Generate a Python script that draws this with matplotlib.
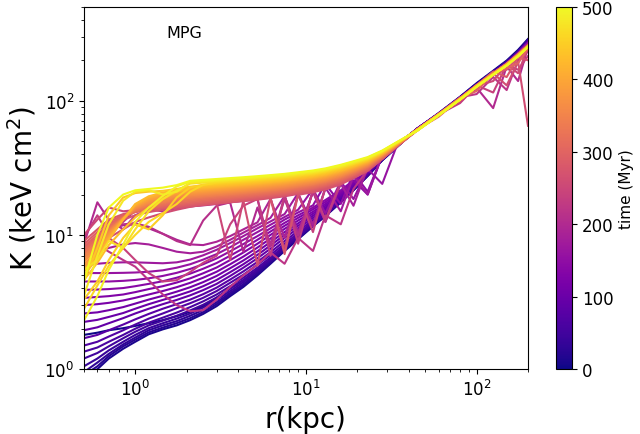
import matplotlib
matplotlib.use('Agg')
import matplotlib.pyplot as plt
from matplotlib import cm
from matplotlib.colors import Normalize

# raios (kpc): parte interna e externa do perfil
r_interno = [0.5, 0.6, 0.7, 0.85, 1.0, 1.2, 1.45, 1.75, 2.1, 2.5, 3.0, 3.6,
             4.3, 5.2, 6.2, 7.5, 9.0, 11, 13, 16, 19, 23, 28, 34]
r_externo = [45, 60, 80, 100, 125, 150, 175, 200]

# tempo de cada perfil (Myr)
tempos = [0, 10, 20, 30, 40, 50, 60, 70, 80, 90, 100, 110, 120, 130, 140, 150,
          160, 170, 180, 190, 200, 210, 220, 230, 240, 250, 260, 270, 280, 290,
          300, 310, 320, 330, 340, 350, 360, 370, 380, 390, 400, 410, 420, 430,
          440, 450, 460, 470, 480, 490, 500]

# entropia K (keV cm^2), r <= 34 kpc
K_interno = [
    [1.8, 1.87, 1.95, 2.02, 2.1, 2.2, 2.32, 2.48, 2.68, 2.95, 3.4, 4.0, 4.6, 5.5, 6.5, 8.0, 9.8, 12.3, 14.6, 18, 22.5, 28.5, 37, 46],
    [0.85, 1.0, 1.2, 1.42, 1.6, 1.82, 1.98, 2.12, 2.32, 2.58, 2.95, 3.5, 4.1, 5.0, 6.1, 7.6, 9.3, 11.6, 13.8, 17.5, 21.5, 27.5, 36, 45],
    [0.9, 1.05, 1.25, 1.48, 1.66, 1.88, 2.04, 2.2, 2.4, 2.66, 3.05, 3.6, 4.2, 5.1, 6.2, 7.7, 9.4, 11.7, 13.9, 17.6, 21.6, 27.6, 36, 45],
    [0.95, 1.12, 1.3, 1.53, 1.72, 1.95, 2.12, 2.28, 2.5, 2.76, 3.15, 3.7, 4.3, 5.2, 6.3, 7.8, 9.5, 11.8, 14, 17.7, 21.7, 27.7, 36, 45],
    [1.05, 1.2, 1.38, 1.6, 1.8, 2.02, 2.2, 2.38, 2.6, 2.88, 3.28, 3.82, 4.45, 5.35, 6.45, 7.95, 9.65, 11.9, 14.1, 17.8, 21.8, 27.8, 36.5, 45.5],
    [1.2, 1.32, 1.48, 1.7, 1.9, 2.12, 2.3, 2.5, 2.74, 3.02, 3.42, 3.98, 4.6, 5.5, 6.6, 8.1, 9.8, 12, 14.2, 18, 22, 28, 36.5, 45.5],
    [1.35, 1.45, 1.6, 1.8, 2.0, 2.22, 2.42, 2.64, 2.9, 3.2, 3.6, 4.15, 4.8, 5.7, 6.8, 8.3, 10, 12.2, 14.4, 18.2, 22.2, 28.2, 37, 46],
    [1.5, 1.6, 1.75, 1.95, 2.15, 2.38, 2.6, 2.85, 3.1, 3.4, 3.82, 4.4, 5.05, 6.0, 7.1, 8.6, 10.3, 12.5, 14.7, 18.5, 22.5, 28.5, 37, 46],
    [1.7, 1.8, 1.95, 2.15, 2.35, 2.58, 2.82, 3.05, 3.3, 3.62, 4.05, 4.65, 5.35, 6.3, 7.45, 9.0, 10.7, 12.9, 15.1, 18.8, 22.8, 28.8, 37.5, 46.5],
    [1.95, 2.05, 2.2, 2.4, 2.6, 2.82, 3.05, 3.28, 3.55, 3.88, 4.32, 4.95, 5.7, 6.7, 7.9, 9.5, 11.2, 13.4, 15.6, 19.2, 23.2, 29, 37.5, 46.5],
    [2.25, 2.33, 2.45, 2.62, 2.82, 3.05, 3.28, 3.52, 3.8, 4.15, 4.62, 5.28, 6.05, 7.1, 8.35, 10, 11.7, 13.9, 16, 19.6, 23.5, 29.3, 38, 46.5],
    [2.6, 2.65, 2.75, 2.9, 3.08, 3.3, 3.52, 3.78, 4.08, 4.45, 4.95, 5.65, 6.45, 7.55, 8.85, 10.5, 12.2, 14.4, 16.5, 20, 24, 29.6, 38, 47],
    [3.0, 3.05, 3.12, 3.25, 3.4, 3.6, 3.82, 4.08, 4.4, 4.8, 5.32, 6.05, 6.9, 8.05, 9.4, 11.1, 12.8, 14.9, 17, 20.5, 24.4, 30, 38.5, 47],
    [3.4, 3.45, 3.5, 3.6, 3.75, 3.95, 4.15, 4.42, 4.75, 5.18, 5.72, 6.5, 7.4, 8.6, 10, 11.7, 13.4, 15.5, 17.6, 21, 25, 30.5, 38.5, 47],
    [3.9, 3.92, 3.95, 4.02, 4.15, 4.32, 4.52, 4.8, 5.15, 5.6, 6.18, 7.0, 7.95, 9.2, 10.6, 12.3, 14, 16, 18.2, 21.5, 25.5, 20, 39, 47],
    [4.5, 4.5, 4.5, 4.55, 4.62, 4.75, 4.95, 5.22, 5.58, 6.05, 6.68, 7.55, 8.55, 9.8, 11.2, 13, 14.7, 16.6, 24, 17, 29, 21, 39, 47],
    [5.2, 5.2, 5.2, 5.22, 5.25, 5.32, 5.45, 5.7, 6.05, 6.55, 7.2, 8.1, 9.2, 10.5, 11.9, 13.6, 15.4, 22, 14.5, 25, 18.5, 31, 24, 46],
    [6.0, 6.1, 6.2, 6.25, 6.25, 6.2, 6.15, 6.25, 6.55, 7.05, 7.75, 8.7, 9.8, 11.2, 12.6, 14.3, 20.5, 11.5, 22.5, 15, 27.5, 20, 39.5, 47.5],
    [7.0, 7.5, 8.0, 8.5, 8.7, 8.5, 8.0, 7.5, 7.3, 7.5, 8.2, 9.2, 10.4, 11.8, 13.4, 19.5, 10.5, 21, 12.5, 24, 16.5, 32, 40, 47.5],
    [8.0, 9.5, 11, 11.8, 12, 11.2, 10.2, 9.2, 8.5, 8.4, 8.9, 9.8, 11, 12.4, 18.5, 9.5, 19.8, 12, 22, 24.6, 28, 33.5, 40.5, 48],
    [8.5, 17.5, 13, 11, 14, 15.5, 15, 15.8, 16.3, 16.6, 17, 17.4, 7.5, 16, 8.5, 18.5, 10, 21, 22.3, 24.3, 26.8, 30.3, 37, 45.5],
    [7.5, 9.5, 11, 12, 12.2, 11.5, 10.2, 9, 8.4, 12.8, 16.5, 17.5, 17.9, 18.4, 8.2, 19.5, 9.8, 21.2, 12.5, 24.4, 26.9, 30.4, 37, 45.5],
    [6.8, 8.5, 7.5, 6.5, 5.8, 4.6, 3.6, 3.0, 2.7, 2.75, 3.3, 4.1, 5.0, 6.0, 7.4, 6.1, 9.5, 7.6, 14, 12, 22, 30.5, 37, 45.5],
    [9.5, 14, 10, 12.5, 15.2, 15.8, 16.1, 16.4, 16.7, 17.1, 17.5, 17.9, 18.3, 18.8, 7.0, 19.8, 8.6, 21.6, 13, 24.5, 27, 30.5, 37, 45.5],
    [5.5, 7, 9.5, 8, 6.5, 5.2, 4.5, 4.6, 5.3, 6.2, 7.0, 12, 16.5, 18.5, 19, 7.8, 20.3, 10.5, 22.6, 24.6, 27, 30.5, 37, 45.5],
    [10, 13, 16, 15, 15.3, 15.6, 15.9, 16.2, 16.5, 16.9, 17.3, 6.5, 18.1, 18.6, 19.1, 19.7, 20.5, 21.4, 22.5, 24.5, 27, 30.5, 37, 45.5],
    [7, 8, 9.5, 11, 12.5, 13.5, 14.5, 15.4, 16.2, 16.8, 17.2, 17.6, 18, 5.9, 18.8, 19.4, 20.2, 21.1, 22.2, 24.2, 26.7, 30.2, 36.8, 45.4],
    [8, 9.5, 11.5, 13, 14, 14.8, 15.4, 15.9, 16.3, 16.7, 17.1, 17.5, 17.9, 18.3, 18.8, 7.2, 19.9, 20.8, 21.8, 23.8, 26.5, 30, 36.8, 45.4],
    [9, 11, 13, 14.3, 15, 15.5, 15.8, 16.2, 16.5, 16.9, 17.3, 17.7, 18.1, 18.6, 19.1, 19.7, 20.5, 21.4, 22.5, 24.5, 27.0, 30.5, 37.0, 45.5],
    [8.5, 10.5, 12.5, 14, 14.8, 15.4, 15.9, 16.5, 16.9, 17.3, 17.7, 18.1, 18.5, 19.0, 19.5, 20.1, 20.9, 21.8, 22.9, 24.9, 27.4, 30.8, 37.3, 45.7],
    [8.2, 10, 12, 13.8, 14.8, 15.6, 16.2, 16.8, 17.3, 17.7, 18.1, 18.5, 18.9, 19.4, 19.9, 20.5, 21.3, 22.2, 23.3, 25.3, 27.8, 31.2, 37.5, 45.8],
    [7.8, 9.6, 11.6, 13.6, 14.9, 15.8, 16.5, 17.2, 17.7, 18.1, 18.5, 18.9, 19.3, 19.8, 20.3, 20.9, 21.7, 22.6, 23.7, 25.7, 28.1, 31.5, 37.8, 46.0],
    [7.5, 9.3, 11.3, 13.5, 15, 16, 16.8, 17.6, 18.1, 18.5, 18.9, 19.3, 19.7, 20.2, 20.7, 21.3, 22.1, 23.0, 24.1, 26.1, 28.5, 31.9, 38.0, 46.1],
    [7.2, 9, 11, 13.4, 15.2, 16.3, 17.2, 18, 18.5, 18.9, 19.3, 19.7, 20.1, 20.6, 21.1, 21.7, 22.5, 23.4, 24.5, 26.5, 28.9, 32.2, 38.3, 46.3],
    [7, 8.7, 10.8, 13.4, 15.4, 16.6, 17.5, 18.4, 18.9, 19.3, 19.7, 20.1, 20.5, 21.0, 21.5, 22.1, 22.9, 23.8, 24.9, 26.9, 29.3, 32.5, 38.5, 46.5],
    [6.8, 8.5, 10.6, 13.3, 15.6, 17, 17.9, 18.8, 19.3, 19.7, 20.1, 20.5, 20.9, 21.4, 21.9, 22.5, 23.3, 24.2, 25.3, 27.3, 29.7, 32.9, 38.8, 46.6],
    [6.5, 8.2, 10.4, 13.3, 15.8, 17.3, 18.3, 19.2, 19.7, 20.1, 20.5, 20.9, 21.3, 21.8, 22.3, 22.9, 23.7, 24.6, 25.7, 27.7, 30.0, 33.2, 39.0, 46.8],
    [6.3, 8, 10.2, 13.2, 16, 17.6, 18.7, 19.6, 20.1, 20.5, 20.9, 21.3, 21.7, 22.2, 22.7, 23.3, 24.1, 25.0, 26.1, 28.1, 30.4, 33.6, 39.3, 46.9],
    [6, 7.7, 10, 13.2, 16.2, 18, 19.1, 20, 20.5, 20.9, 21.3, 21.7, 22.1, 22.6, 23.1, 23.7, 24.5, 25.4, 26.5, 28.5, 30.8, 33.9, 39.5, 47.1],
    [5.8, 7.5, 9.8, 13.2, 16.4, 18.3, 19.5, 20.4, 20.9, 21.3, 21.7, 22.1, 22.5, 23.0, 23.5, 24.1, 24.9, 25.8, 26.9, 28.9, 31.2, 34.2, 39.8, 47.3],
    [5.5, 7.2, 9.6, 13.1, 16.6, 18.7, 19.9, 20.8, 21.3, 21.7, 22.1, 22.5, 22.9, 23.4, 23.9, 24.5, 25.3, 26.2, 27.3, 29.3, 31.6, 34.6, 40.0, 47.4],
    [5.3, 7.0, 9.4, 13.1, 16.8, 19, 20.3, 21.2, 21.7, 22.1, 22.5, 22.9, 23.3, 23.8, 24.3, 24.9, 25.7, 26.6, 27.7, 29.7, 31.9, 34.9, 40.3, 47.6],
    [5.0, 6.7, 9.2, 13, 17, 19.4, 20.7, 21.6, 22.1, 22.5, 22.9, 23.3, 23.7, 24.2, 24.7, 25.3, 26.1, 27.0, 28.1, 30.1, 32.3, 35.3, 40.5, 47.7],
    [4.6, 6.2, 8.4, 11, 13.5, 16, 18.5, 21, 22.5, 22.9, 23.3, 23.7, 24.1, 24.6, 25.1, 25.7, 26.5, 27.4, 28.5, 30.5, 32.7, 35.6, 40.8, 47.9],
    [4.5, 8, 14, 19, 20.5, 21, 21.3, 22, 22.9, 23.3, 23.7, 24.1, 24.5, 25.0, 25.5, 26.1, 26.9, 27.8, 28.9, 30.9, 33.1, 35.9, 41.0, 48.1],
    [3.3, 4.5, 6.5, 9.5, 12, 11, 14, 19, 22.6, 23.7, 24.1, 24.5, 24.9, 25.4, 25.9, 26.5, 27.3, 28.2, 29.3, 31.3, 33.5, 36.3, 41.3, 48.2],
    [2.8, 4.2, 5.9, 8, 10, 12.5, 14.5, 17, 21, 23.6, 24.5, 24.9, 25.3, 25.8, 26.3, 26.9, 27.7, 28.6, 29.7, 31.7, 33.8, 36.6, 41.5, 48.4],
    [5.5, 6.5, 9, 8, 11, 15, 18.5, 21.5, 24.1, 24.5, 24.9, 25.3, 25.7, 26.2, 26.7, 27.3, 28.1, 29.0, 30.1, 32.1, 34.2, 37.0, 41.8, 48.5],
    [3.5, 7, 12, 18, 21, 21.5, 20, 21, 24.5, 24.9, 25.3, 25.7, 26.1, 26.6, 27.1, 27.7, 28.5, 29.4, 30.5, 32.5, 34.6, 37.3, 42.0, 48.7],
    [2.3, 3.5, 5.5, 8.5, 12.5, 16, 19.5, 23, 24.9, 25.3, 25.7, 26.1, 26.5, 27.0, 27.5, 28.1, 28.9, 29.8, 30.9, 32.9, 35.0, 37.6, 42.3, 48.9],
    [4.5, 10, 16, 20, 21.5, 22, 22.5, 23.5, 25.3, 25.7, 26.1, 26.5, 26.9, 27.4, 27.9, 28.5, 29.3, 30.2, 31.3, 33.3, 35.4, 38.0, 42.5, 49.0],
]

# entropia K (keV cm^2) para r >= 45 kpc
K_externo = [
    [62, 81, 107, 135, 167, 199, 239, 288],
    [62, 80, 106, 133, 165, 196, 234, 284],
    [62, 80, 106, 133, 165, 196, 234, 284],
    [62, 80, 106, 133, 164, 195, 233, 283],
    [62, 80, 106, 133, 164, 195, 232, 282],
    [62, 80, 106, 132, 164, 194, 231, 280],
    [62, 80, 105, 131, 162, 191, 228, 276],
    [62, 80, 105, 131, 162, 191, 228, 275],
    [62, 80, 105, 131, 162, 191, 228, 274],
    [62, 80, 105, 131, 161, 190, 227, 273],
    [62, 80, 105, 131, 161, 190, 227, 272],
    [62, 80, 105, 131, 161, 190, 226, 271],
    [62, 80, 105, 131, 161, 189, 226, 270],
    [61, 79, 104, 130, 160, 188, 225, 268],
    [61, 79, 104, 130, 160, 188, 225, 267],
    [61, 79, 104, 130, 160, 188, 224, 267],
    [61, 79, 104, 130, 160, 188, 224, 266],
    [61, 79, 104, 130, 160, 188, 224, 266],
    [61, 79, 104, 130, 160, 188, 223, 265],
    [61, 79, 104, 130, 160, 188, 223, 264],
    [61, 79, 104, 125, 88, 180, 140, 250],
    [61, 79, 104, 129, 158, 186, 220, 256],
    [61, 80, 106, 112, 150, 120, 200, 232],
    [61, 79, 96, 129, 158, 186, 220, 256],
    [61, 80, 98, 130, 115, 185, 170, 215],
    [61, 79, 104, 129, 140, 186, 160, 250],
    [61, 79, 105, 120, 160, 130, 195, 65],
    [61, 79, 104, 129, 158, 170, 210, 200],
    [60, 80, 100, 130, 165, 150, 210, 240],
    [61, 79, 104, 130, 160, 188, 222, 258],
    [61, 76, 104, 118, 160, 175, 190, 245],
    [61, 79, 104, 130, 160, 188, 222, 258],
    [61, 79, 104, 130, 160, 188, 222, 258],
    [61, 79, 104, 130, 160, 188, 221, 257],
    [61, 79, 104, 130, 160, 188, 221, 257],
    [61, 79, 104, 130, 159, 187, 220, 256],
    [61, 79, 103, 129, 158, 186, 219, 255],
    [61, 79, 103, 129, 158, 186, 219, 255],
    [61, 79, 103, 129, 158, 186, 219, 255],
    [61, 79, 103, 129, 158, 185, 218, 255],
    [61, 79, 103, 129, 158, 185, 218, 254],
    [61, 79, 103, 129, 158, 185, 218, 254],
    [61, 79, 103, 128, 157, 184, 217, 254],
    [61, 79, 103, 128, 157, 184, 217, 253],
    [60, 78, 102, 127, 156, 183, 216, 253],
    [60, 78, 102, 127, 156, 183, 216, 252],
    [60, 78, 102, 127, 156, 183, 215, 252],
    [60, 78, 102, 127, 156, 183, 215, 252],
    [60, 78, 102, 127, 156, 183, 215, 251],
    [60, 78, 102, 127, 156, 183, 214, 251],
    [60, 78, 102, 127, 156, 183, 214, 251],
]


def plotar_perfis(tempos, K_interno, K_externo):
    """Plota os perfis de entropia coloridos pelo tempo."""
    raios = r_interno + r_externo
    norma = Normalize(vmin=0, vmax=500)
    cmap = plt.get_cmap('plasma')

    fig = plt.figure(figsize=(6.4, 4.35), dpi=100)
    ax = fig.add_axes([0.131, 0.149, 0.694, 0.833])
    for t, Ki, Ke in zip(tempos, K_interno, K_externo):
        ax.plot(raios, Ki + Ke, color=cmap(norma(t)), lw=1.5)

    ax.set_xscale('log')
    ax.set_yscale('log')
    ax.set_xlim(0.5, 200)
    ax.set_ylim(1, 500)
    ax.set_xlabel('r(kpc)', fontsize=20)
    ax.set_ylabel('K (keV cm$^2$)', fontsize=20)
    ax.tick_params(labelsize=12)
    ax.text(0.185, 0.93, 'MPG', transform=ax.transAxes, fontsize=11.5,
            ha='left', va='center')

    cax = fig.add_axes([0.869, 0.149, 0.025, 0.833])
    sm = cm.ScalarMappable(norm=norma, cmap=cmap)
    cb = fig.colorbar(sm, cax=cax, ticks=[0, 100, 200, 300, 400, 500])
    cb.set_label('time (Myr)', fontsize=11)
    cb.ax.tick_params(labelsize=12)

    fig.savefig('out.png', dpi=100)


plotar_perfis(tempos, K_interno, K_externo)
